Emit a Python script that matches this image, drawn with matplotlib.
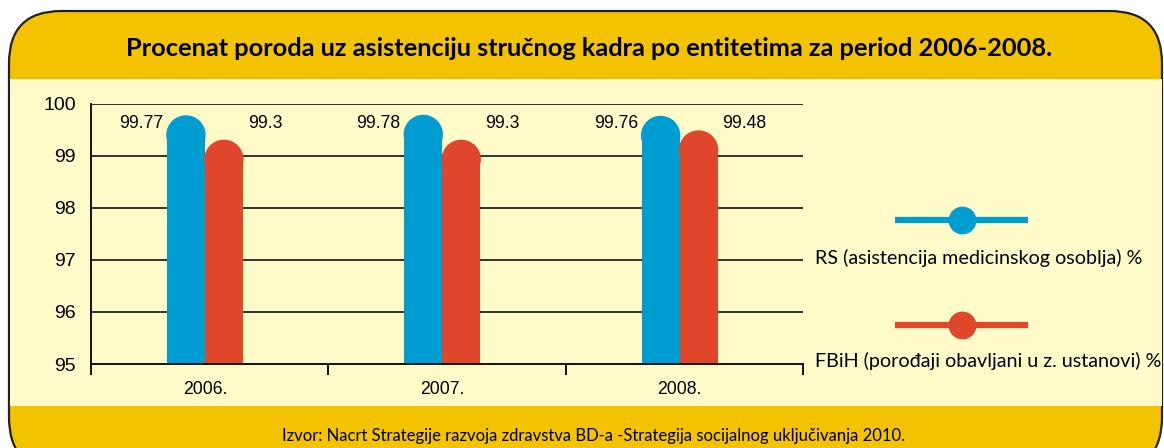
import matplotlib
matplotlib.use("Agg")
import matplotlib.pyplot as plt
from matplotlib.patches import FancyBboxPatch, Rectangle, Ellipse
from matplotlib.lines import Line2D

# ---- data ----
years = ["2006.", "2007.", "2008."]
rs_values = [99.77, 99.78, 99.76]
fbih_values = [99.3, 99.3, 99.48]
series_names = ["RS (asistencija medicinskog osoblja) %",
                "FBiH (porođaji obavljani u z. ustanovi) %"]
yticks = [95, 96, 97, 98, 99, 100]
title = "Procenat poroda uz asistenciju stručnog kadra po entitetima za period 2006-2008."
source = "Izvor: Nacrt Strategije razvoja zdravstva BD-a -Strategija socijalnog uključivanja 2010."

W, H = 1164, 448
BLUE = "#009DD2"
RED = "#E0462A"
GOLD = "#F4C300"
PALE = "#FFFBC8"

fig = plt.figure(figsize=(W / 100, H / 100), dpi=100)
fig.patch.set_facecolor("white")

def fx(x):
    return x / W

def fy(y):
    return 1 - y / H

# frame (rounded), pale interior
frame = FancyBboxPatch((fx(9), fy(470)), fx(1153), fy(11) - fy(470),
                       boxstyle="round,pad=0,rounding_size=0.045",
                       transform=fig.transFigure, facecolor=GOLD,
                       edgecolor="#222222", linewidth=1.6, mutation_aspect=W / H,
                       zorder=0)
fig.add_artist(frame)
fig.add_artist(Rectangle((fx(10), fy(406)), fx(1152), fy(79) - fy(406),
                         transform=fig.transFigure, facecolor=PALE,
                         edgecolor="none", zorder=1))

fig.text(fx(589), fy(48), title, ha="center", va="center",
         fontsize=18.3, fontweight="bold", family=["Lato", "DejaVu Sans"], zorder=5)
fig.text(fx(593), fy(436), source, ha="center", va="center",
         fontsize=12, family=["Lato", "DejaVu Sans"], zorder=5)

# ---- axes ----
ax = fig.add_axes([fx(91), fy(364), fx(803 - 91), (364 - 104) / H])
ax.set_facecolor("none")
ax.set_zorder(3)
ax.set_xlim(0, 3)
ax.set_ylim(95, 100)
ax.set_yticks(yticks)
ax.set_yticklabels([str(t) for t in yticks], family="Liberation Sans", fontsize=14)
ax.tick_params(axis="y", length=0, pad=11)
ax.set_xticks([0, 1, 2, 3])
ax.set_xticklabels([])
ax.tick_params(axis="x", length=8, width=1.3, direction="out")
for s in ["top", "right"]:
    ax.spines[s].set_visible(False)
for s in ["left", "bottom"]:
    ax.spines[s].set_linewidth(1.3)
for t in yticks[1:]:
    ax.axhline(t, color="#222222", lw=1.3, zorder=1)

bw = 0.16
# data units per pixel
px_x = 3 / (803 - 91)
px_y = 5 / (364 - 104)
r_px = bw / px_x / 2
r_y = r_px * px_y

for i, yr in enumerate(years):
    c = i + 0.48
    for val, col, off in [(rs_values[i], BLUE, -bw / 2), (fbih_values[i], RED, bw / 2)]:
        x = c + off
        ax.bar(x, val - 95 - r_y, bottom=95, width=bw, color=col, zorder=2)
        ax.add_patch(Ellipse((x, val - r_y), bw, 2 * r_y, color=col, zorder=2))
    ax.text(c - bw - 0.015, 99.62, f"{rs_values[i]:g}", ha="right", va="center",
            fontsize=12.7, family="Liberation Sans", zorder=4)
    ax.text(c + bw + 0.02, 99.62, f"{fbih_values[i]:g}", ha="left", va="center",
            fontsize=12.7, family="Liberation Sans", zorder=4)
    ax.text(c, 94.67, yr, ha="center", va="top", fontsize=12.7,
            family="Liberation Sans", transform=ax.transData, clip_on=False)

# ---- legend ----
for (ly, ty), col, name in zip([(220, 258), (325, 361)], [BLUE, RED], series_names):
    fig.add_artist(Line2D([fx(895), fx(1028)], [fy(ly), fy(ly)], transform=fig.transFigure,
                          color=col, lw=4.5, solid_capstyle="butt", zorder=6))
    fig.add_artist(Line2D([fx(962)], [fy(ly)], transform=fig.transFigure, marker="o",
                          markersize=19, color=col, zorder=7))
    fig.text(fx(815), fy(ty), name, ha="left", va="center", fontsize=14.2,
             family=["Lato", "DejaVu Sans"], zorder=6)

fig.savefig("out.png", dpi=100)
